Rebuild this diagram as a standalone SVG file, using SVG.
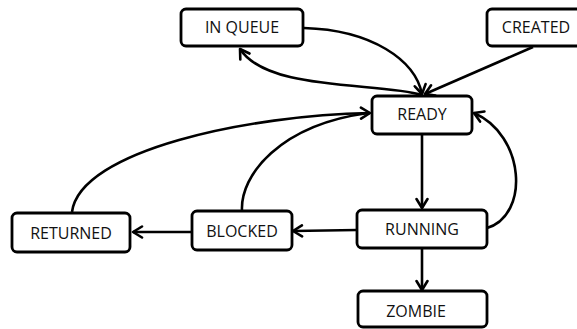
<svg xmlns="http://www.w3.org/2000/svg" width="577" height="329" viewBox="0 0 577 329">
<defs>
<marker id="arr" markerUnits="userSpaceOnUse" markerWidth="14" markerHeight="14" viewBox="0 0 14 14" refX="12" refY="7" orient="auto">
<path d="M3,1.5 L12,7 L3,12.5" fill="none" stroke="#000" stroke-width="2.6" stroke-linecap="round" stroke-linejoin="round"/>
</marker>
<style>
.box{fill:#fff;stroke:#000;stroke-width:2.8}
.lbl{font-family:"Open Sans","Liberation Sans",sans-serif;font-size:16px;fill:#111;text-anchor:middle}
.edge{fill:none;stroke:#000;stroke-width:2.6;marker-end:url(#arr)}
.plain{fill:none;stroke:#000;stroke-width:2.6}
</style>
</defs>
<rect width="577" height="329" fill="#fff"/>
<g id="connectors">
<path class="edge" d="M304,28 C372,30 415,60 422,94"/>
<path class="edge" d="M422,95 C380,82 268,92 240,49"/>
<path class="edge" d="M533,47 L425,94"/>
<path class="edge" d="M72,212 C80,150 250,115 370,113"/>
<path class="plain" d="M242,211 C240,175 280,125 368,113"/>
<path class="edge" d="M422,134 L422,208"/>
<path class="edge" d="M487,228 C530,215 525,135 474,113"/>
<path class="edge" d="M357,230 L293,231"/>
<path class="edge" d="M192,232 L133,232"/>
<path class="edge" d="M422,248 L422,290"/>
</g>
<g id="inqueue"><rect class="box" x="181" y="9" width="122" height="37" rx="5"/><text class="lbl" x="242" y="33">IN QUEUE</text></g>
<g id="created"><rect class="box" x="487" y="9" width="98" height="37" rx="5"/><text class="lbl" x="536" y="33">CREATED</text></g>
<g id="ready"><rect class="box" x="372" y="96" width="100" height="38" rx="5"/><text class="lbl" x="422" y="120">READY</text></g>
<g id="running"><rect class="box" x="357" y="210" width="130" height="38" rx="5"/><text class="lbl" x="422" y="235">RUNNING</text></g>
<g id="blocked"><rect class="box" x="192" y="211" width="100" height="39" rx="5"/><text class="lbl" x="242" y="237">BLOCKED</text></g>
<g id="returned"><rect class="box" x="12" y="213" width="118" height="39" rx="5"/><text class="lbl" x="71" y="239">RETURNED</text></g>
<g id="zombie"><rect class="box" x="358" y="291" width="129" height="36" rx="5"/><text class="lbl" x="416" y="317">ZOMBIE</text></g>
</svg>
